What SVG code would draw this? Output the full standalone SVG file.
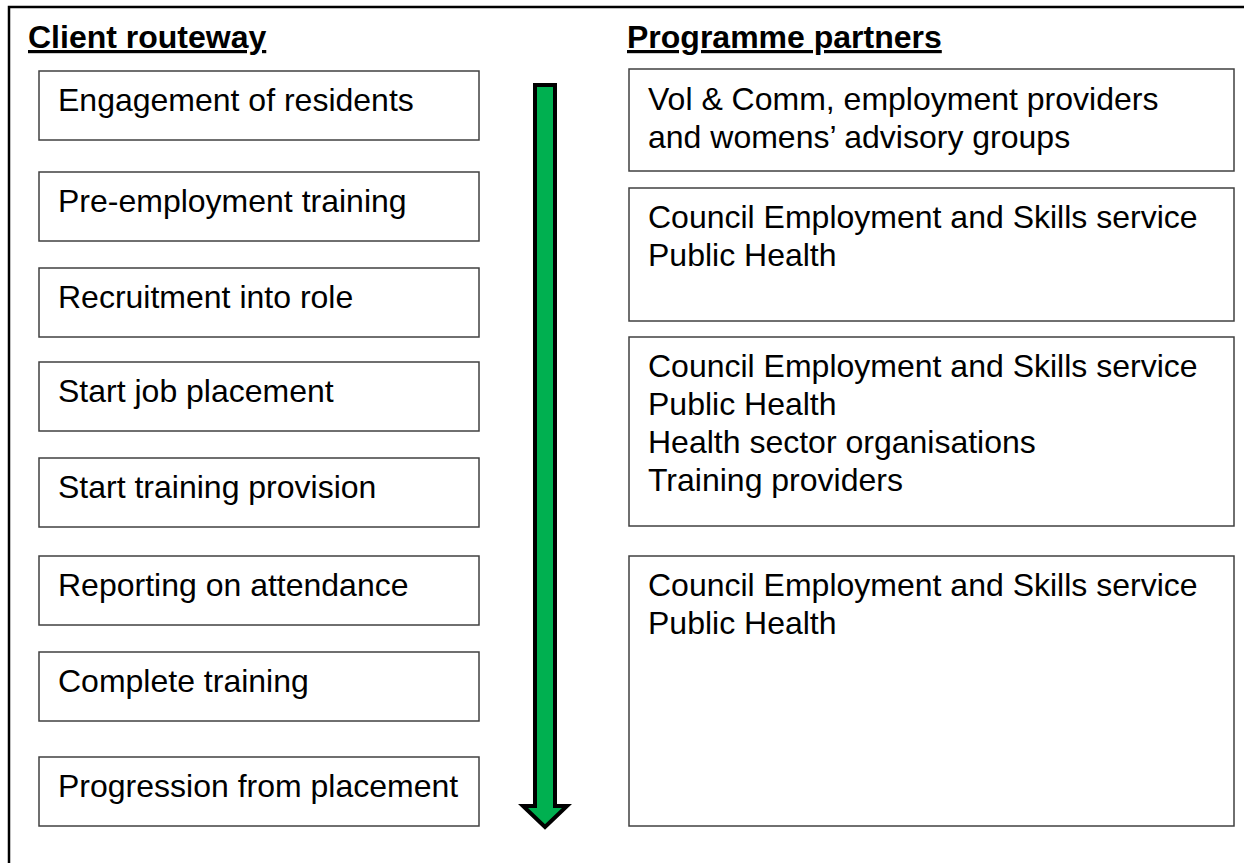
<svg xmlns="http://www.w3.org/2000/svg" width="1244" height="863" viewBox="0 0 1244 863">
<style>
.box{fill:#fff;stroke:#404040;stroke-width:1.5}
.t{font-family:"Liberation Sans",Arial,sans-serif;font-size:32px;fill:#000}
.h{font-family:"Liberation Sans",Arial,sans-serif;font-size:32px;font-weight:bold;fill:#000;text-decoration:underline}
</style>
<rect width="1244" height="863" fill="#fff"/>
<path d="M9,863 V7 H1244" fill="none" stroke="#000" stroke-width="2.5"/>
<text class="h" x="28" y="48">Client routeway</text>
<text class="h" x="627" y="48">Programme partners</text>
<g id="c1"><rect class="box" x="39" y="71" width="440" height="69"/><text class="t" x="58" y="111">Engagement of residents</text></g>
<g id="c2"><rect class="box" x="39" y="172" width="440" height="69"/><text class="t" x="58" y="212">Pre-employment training</text></g>
<g id="c3"><rect class="box" x="39" y="268" width="440" height="69"/><text class="t" x="58" y="308">Recruitment into role</text></g>
<g id="c4"><rect class="box" x="39" y="362" width="440" height="69"/><text class="t" x="58" y="402">Start job placement</text></g>
<g id="c5"><rect class="box" x="39" y="458" width="440" height="69"/><text class="t" x="58" y="498">Start training provision</text></g>
<g id="c6"><rect class="box" x="39" y="556" width="440" height="69"/><text class="t" x="58" y="596">Reporting on attendance</text></g>
<g id="c7"><rect class="box" x="39" y="652" width="440" height="69"/><text class="t" x="58" y="692">Complete training</text></g>
<g id="c8"><rect class="box" x="39" y="757" width="440" height="69"/><text class="t" x="58" y="797">Progression from placement</text></g>
<g id="p1"><rect class="box" x="629" y="69" width="605" height="102"/><text class="t" x="648" y="110">Vol &amp; Comm, employment providers</text><text class="t" x="648" y="148">and womens’ advisory groups</text></g>
<g id="p2"><rect class="box" x="629" y="188" width="605" height="133"/><text class="t" x="648" y="228">Council Employment and Skills service</text><text class="t" x="648" y="266">Public Health</text></g>
<g id="p3"><rect class="box" x="629" y="337" width="605" height="189"/><text class="t" x="648" y="377">Council Employment and Skills service</text><text class="t" x="648" y="415">Public Health</text><text class="t" x="648" y="453">Health sector organisations</text><text class="t" x="648" y="491">Training providers</text></g>
<g id="p4"><rect class="box" x="629" y="556" width="605" height="270"/><text class="t" x="648" y="596">Council Employment and Skills service</text><text class="t" x="648" y="634">Public Health</text></g>
<g id="connectors">
<path d="M535,85 H555 V806 H567 L545,827 L523,806 H535 Z" fill="#00B050" stroke="#000" stroke-width="4" stroke-linejoin="miter"/>
</g>
</svg>
